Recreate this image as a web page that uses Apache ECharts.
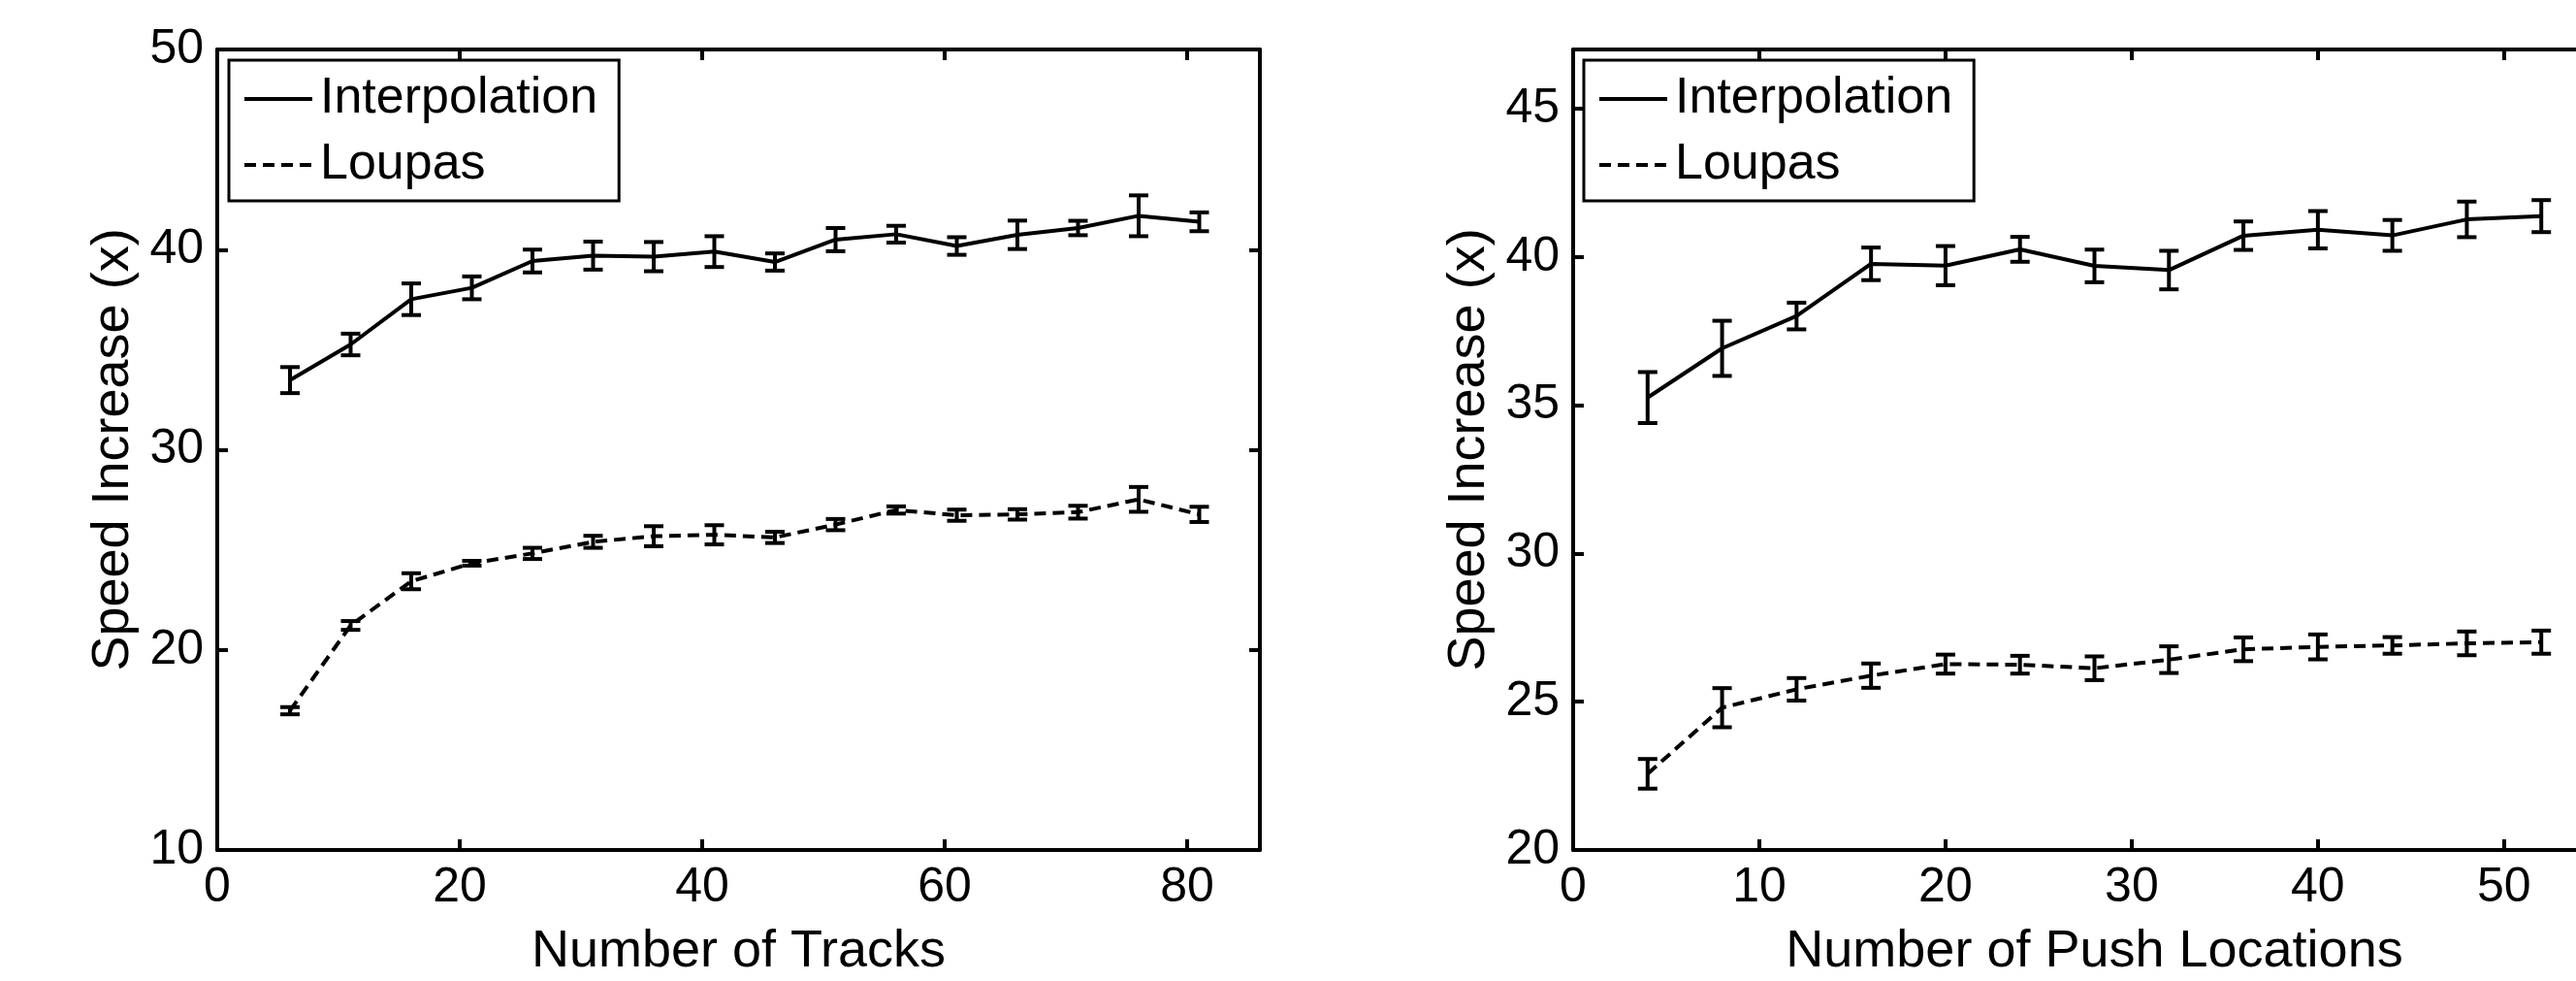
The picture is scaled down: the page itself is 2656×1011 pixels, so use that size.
<!DOCTYPE html>
<html>
<head>
<meta charset="utf-8">
<script src="https://cdn.jsdelivr.net/npm/echarts@6/dist/echarts.min.js"></script>
<style>
html,body{margin:0;padding:0;background:#fff;}
#c{width:2656px;height:1011px;}
</style>
</head>
<body>
<div id="c"></div>
<script>
// ---- data ----
const tracksX = [6, 11, 16, 21, 26, 31, 36, 41, 46, 51, 56, 61, 66, 71, 76, 81];
const interpTracks = [33.48, 35.26, 37.52, 38.09, 39.43, 39.70, 39.65, 39.90, 39.38, 40.50, 40.77, 40.18, 40.74, 41.08, 41.69, 41.39];
const interpTracksErr = [0.65, 0.54, 0.79, 0.57, 0.57, 0.70, 0.73, 0.77, 0.43, 0.58, 0.42, 0.44, 0.71, 0.36, 1.02, 0.47];
const loupasTracks = [16.96, 21.22, 23.43, 24.33, 24.82, 25.40, 25.68, 25.75, 25.62, 26.26, 26.99, 26.73, 26.77, 26.88, 27.52, 26.77];
const loupasTracksErr = [0.18, 0.22, 0.40, 0.12, 0.28, 0.30, 0.50, 0.48, 0.28, 0.28, 0.18, 0.28, 0.26, 0.32, 0.62, 0.38];

const pushX = [4, 8, 12, 16, 20, 24, 28, 32, 36, 40, 44, 48, 52];
const interpPush = [35.26, 36.92, 38.01, 39.77, 39.71, 40.26, 39.70, 39.56, 40.72, 40.92, 40.73, 41.27, 41.38];
const interpPushErr = [0.86, 0.93, 0.45, 0.55, 0.66, 0.42, 0.55, 0.65, 0.48, 0.63, 0.52, 0.60, 0.54];
const loupasPush = [22.57, 24.80, 25.42, 25.88, 26.27, 26.25, 26.13, 26.42, 26.77, 26.85, 26.90, 26.97, 27.01];
const loupasPushErr = [0.50, 0.66, 0.38, 0.41, 0.32, 0.30, 0.40, 0.45, 0.40, 0.42, 0.28, 0.40, 0.39];

const seriesNames = ['Interpolation', 'Loupas'];

const FONT = '"Liberation Sans", Arial, Helvetica, sans-serif';
const LW = 4;
const DASH = [12, 7];

function pairs(xs, ys) { return xs.map((x, i) => [x, ys[i]]); }
function errs(xs, ys, es) { return xs.map((x, i) => [x, ys[i] - es[i], ys[i] + es[i]]); }

function renderErr(params, api) {
  const x = api.value(0), lo = api.value(1), hi = api.value(2);
  const a = api.coord([x, hi]), b = api.coord([x, lo]);
  const hw = 10;
  const st = { stroke: '#000', lineWidth: LW };
  return {
    type: 'group',
    children: [
      { type: 'line', shape: { x1: a[0], y1: a[1], x2: b[0], y2: b[1] }, style: st },
      { type: 'line', shape: { x1: a[0] - hw, y1: a[1], x2: a[0] + hw, y2: a[1] }, style: st },
      { type: 'line', shape: { x1: b[0] - hw, y1: b[1], x2: b[0] + hw, y2: b[1] }, style: st }
    ]
  };
}

const axisLine = { show: true, onZero: false, lineStyle: { color: '#000', width: LW } };
const tickStyle = { show: true, inside: true, length: 11, lineStyle: { color: '#000', width: LW } };
const labelStyle = { color: '#000', fontFamily: FONT, fontSize: 50 };
const nameStyle = { color: '#000', fontFamily: FONT, fontSize: 54 };

function xAxes(gridIndex, max, interval, name) {
  return [
    { type: 'value', gridIndex, min: 0, max, interval, position: 'bottom',
      axisLine, axisTick: tickStyle, splitLine: { show: false },
      axisLabel: Object.assign({ margin: 14, showMaxLabel: false }, labelStyle),
      name, nameLocation: 'middle', nameGap: 78, nameTextStyle: nameStyle },
    { type: 'value', gridIndex, min: 0, max, interval, position: 'top',
      axisLine, axisTick: tickStyle, splitLine: { show: false }, axisLabel: { show: false } }
  ];
}
function yAxes(gridIndex, min, max, interval, nameGap) {
  return [
    { type: 'value', gridIndex, min, max, interval, position: 'left',
      axisLine, axisTick: tickStyle, splitLine: { show: false },
      axisLabel: Object.assign({ margin: 14, showMaxLabel: max % interval === 0 }, labelStyle),
      name: 'Speed Increase (x)', nameLocation: 'middle', nameRotate: 90, nameGap,
      nameTextStyle: nameStyle },
    { type: 'value', gridIndex, min, max, interval, position: 'right',
      axisLine, axisTick: tickStyle, splitLine: { show: false }, axisLabel: { show: false } }
  ];
}

function legendAt(left) {
  return {
    orient: 'vertical', left, top: 62,
    data: [
      { name: seriesNames[0], lineStyle: { width: LW, type: 'solid', color: '#000' } },
      { name: seriesNames[1], lineStyle: { width: LW, type: DASH, color: '#000' } }
    ],
    backgroundColor: '#fff', borderColor: '#000', borderWidth: 3, borderRadius: 0,
    padding: [10, 22, 7, 14],
    itemWidth: 70, itemHeight: 14, itemGap: 8,
    itemStyle: { opacity: 0 },
    selectedMode: false,
    textStyle: { color: '#000', fontFamily: FONT, fontSize: 52, lineHeight: 60, padding: [0, 0, 0, 3] }
  };
}

const lineBase = { type: 'line', symbol: 'none', animation: false, z: 3 };
const errBase = { type: 'custom', renderItem: renderErr, animation: false, z: 4,
  encode: { x: 0, y: [1, 2] } };

const option = {
  backgroundColor: '#fff',
  animation: false,
  grid: [
    { left: 224, top: 51, width: 1075, height: 825, containLabel: false, outerBoundsMode: 'none' },
    { left: 1622, top: 51, width: 1075, height: 825, containLabel: false, outerBoundsMode: 'none' }
  ],
  legend: [legendAt(236), legendAt(1633)],
  xAxis: [].concat(xAxes(0, 86, 20, 'Number of Tracks'), xAxes(1, 56, 10, 'Number of Push Locations')),
  yAxis: [].concat(yAxes(0, 10, 50, 10, 80), yAxes(1, 20, 47, 5, 80)),
  series: [
    Object.assign({}, lineBase, { name: seriesNames[0], xAxisIndex: 0, yAxisIndex: 0,
      data: pairs(tracksX, interpTracks), lineStyle: { color: '#000', width: LW, type: 'solid' }, itemStyle: { color: '#000' } }),
    Object.assign({}, lineBase, { name: seriesNames[1], xAxisIndex: 0, yAxisIndex: 0,
      data: pairs(tracksX, loupasTracks), lineStyle: { color: '#000', width: LW, type: DASH }, itemStyle: { color: '#000' } }),
    Object.assign({}, errBase, { name: 'Interpolation err', xAxisIndex: 0, yAxisIndex: 0,
      data: errs(tracksX, interpTracks, interpTracksErr) }),
    Object.assign({}, errBase, { name: 'Loupas err', xAxisIndex: 0, yAxisIndex: 0,
      data: errs(tracksX, loupasTracks, loupasTracksErr) }),

    Object.assign({}, lineBase, { name: seriesNames[0], xAxisIndex: 2, yAxisIndex: 2,
      data: pairs(pushX, interpPush), lineStyle: { color: '#000', width: LW, type: 'solid' }, itemStyle: { color: '#000' } }),
    Object.assign({}, lineBase, { name: seriesNames[1], xAxisIndex: 2, yAxisIndex: 2,
      data: pairs(pushX, loupasPush), lineStyle: { color: '#000', width: LW, type: DASH }, itemStyle: { color: '#000' } }),
    Object.assign({}, errBase, { name: 'Interpolation err2', xAxisIndex: 2, yAxisIndex: 2,
      data: errs(pushX, interpPush, interpPushErr) }),
    Object.assign({}, errBase, { name: 'Loupas err2', xAxisIndex: 2, yAxisIndex: 2,
      data: errs(pushX, loupasPush, loupasPushErr) })
  ]
};

const chart = echarts.init(document.getElementById('c'), null, { renderer: 'canvas', width: 2656, height: 1011 });
chart.setOption(option);
</script>
</body>
</html>
